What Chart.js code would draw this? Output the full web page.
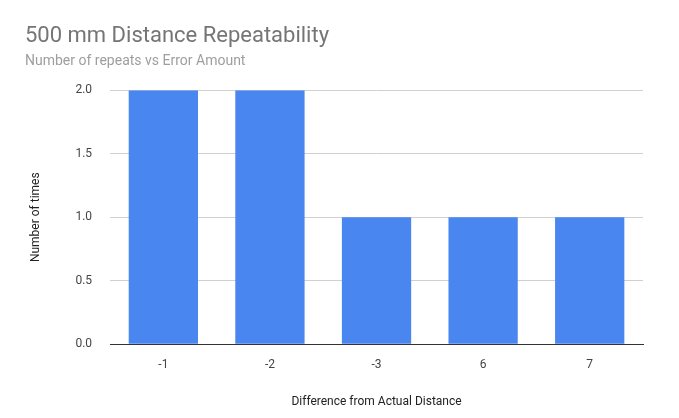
<!DOCTYPE html>
<html>
<head>
<meta charset="utf-8">
<script src="https://cdn.jsdelivr.net/npm/chart.js@4/dist/chart.umd.min.js"></script>
<style>
  html, body { margin: 0; padding: 0; background: #fff; }
  #wrap { width: 679px; height: 418px; }
</style>
</head>
<body>
<div id="wrap"><canvas id="c" width="679" height="418"></canvas></div>
<script>
// 차트 데이터
const categories = ['-1', '-2', '-3', '6', '7'];
const repeatCounts = [2, 2, 1, 1, 1];

const ctx = document.getElementById('c').getContext('2d');
new Chart(ctx, {
    type: 'bar',
    data: {
        labels: categories,
        datasets: [{
            label: 'Number of times',
            data: repeatCounts,
            backgroundColor: '#4a86f0',
            categoryPercentage: 0.65,
            barPercentage: 1.0
        }]
    },
    options: {
        responsive: false,
        animation: false,
        layout: { padding: { left: 25, right: 36, top: 6, bottom: 5 } },
        plugins: {
            legend: { display: false },
            title: {
                display: true,
                text: '500 mm Distance Repeatability',
                align: 'start',
                color: '#757575',
                font: { family: 'Roboto', size: 22, weight: 'normal' },
                padding: { top: 17, bottom: 4 }
            },
            subtitle: {
                display: true,
                text: 'Number of repeats vs Error Amount',
                align: 'start',
                color: '#9e9e9e',
                font: { family: 'Roboto', size: 14 },
                padding: { bottom: 20 }
            }
        },
        scales: {
            y: {
                min: 0,
                max: 2,
                ticks: {
                    stepSize: 0.5,
                    color: '#444',
                    font: { family: 'Roboto', size: 12 },
                    callback: v => v.toFixed(1),
                    padding: 18
                },
                grid: { color: '#d0d0d0', drawTicks: false },
                border: { display: false },
                title: {
                    display: true,
                    text: 'Number of times',
                    color: '#222',
                    font: { family: 'Roboto', size: 12 },
                    padding: { bottom: 14 }
                }
            },
            x: {
                ticks: {
                    color: '#444',
                    font: { family: 'Roboto', size: 12 },
                    padding: 6
                },
                grid: { display: false },
                border: { color: '#333' },
                title: {
                    display: true,
                    text: 'Difference from Actual Distance',
                    color: '#222',
                    font: { family: 'Roboto', size: 12 },
                    padding: { top: 16 }
                }
            }
        }
    }
});
</script>
</body>
</html>
